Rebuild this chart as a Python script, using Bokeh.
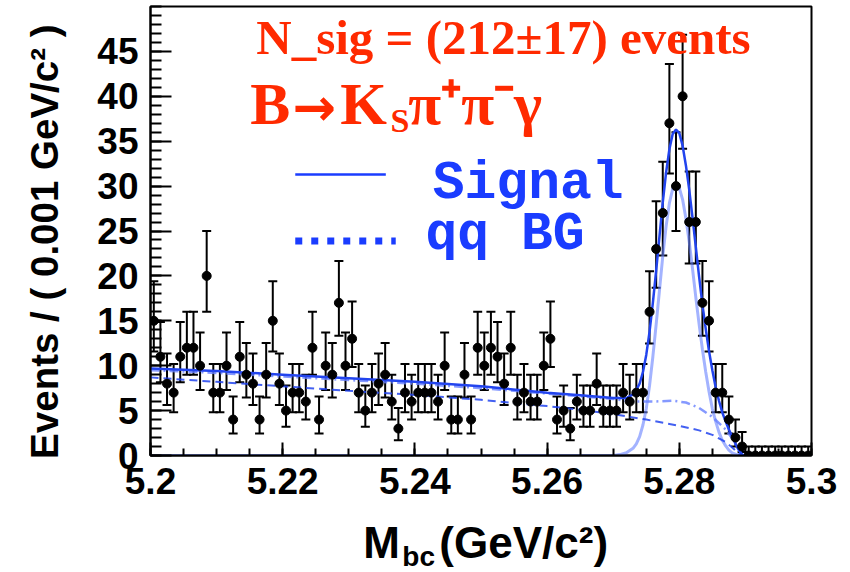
from bokeh.plotting import figure
from bokeh.layouts import column
from bokeh.models import (ColumnDataSource, Whisker, TeeHead, Label, FixedTicker,
                          CustomJSTickFormatter)
from bokeh.embed import file_html
from bokeh.resources import INLINE
import math

# ---------------- data ----------------
BIN_LO = 5.2
BIN_WIDTH = 0.001
counts = [15, 11, 8, 7, 11, 12, 12, 10, 20, 7,
          7, 10, 4, 11, 9, 8, 4, 9, 15, 8,
          5, 7, 7, 6, 12, 4, 10, 9, 17, 10,
          13, 7, 5, 7, 8, 9, 6, 3, 7, 6,
          7, 7, 7, 6, 10, 4, 4, 9, 4, 12,
          10, 12, 11, 8, 12, 6, 7, 6, 6, 10,
          13, 4, 5, 3, 6, 5, 5, 8, 5, 5,
          5, 7, 6, 7, 7, 16, 23, 27, 37, 30,
          40, 26, 26, 17, 15, 7, 7, 4, 2, 1,
          0, 0, 0, 0, 0, 0, 0, 0, 0, 0]

fit_x = [5.200, 5.210, 5.220, 5.230, 5.240, 5.250, 5.260, 5.265, 5.270, 5.271,
         5.272, 5.273, 5.2735, 5.274, 5.2745, 5.275, 5.2755, 5.276, 5.2765, 5.277,
         5.2775, 5.278, 5.2785, 5.279, 5.2795, 5.280, 5.2805, 5.281, 5.2815, 5.282,
         5.2825, 5.283, 5.2835, 5.284, 5.2845, 5.285, 5.2855, 5.286, 5.2865, 5.287,
         5.2875, 5.288, 5.2885, 5.289, 5.2895, 5.290, 5.300]
total_y = [9.7, 9.4, 9.0, 8.6, 8.2, 7.7, 7.0, 6.7, 6.4, 6.4,
           6.4, 6.8, 7.3, 8.0, 9.3, 11.2, 13.8, 17.0, 20.6, 24.4,
           28.2, 31.5, 34.1, 35.8, 36.3, 35.9, 34.5, 32.3, 29.6, 26.5,
           23.2, 19.9, 16.8, 14.1, 11.6, 9.5, 7.6, 6.1, 4.8, 3.8,
           2.9, 2.1, 1.3, 0.6, 0.1, 0.0, 0.0]
signal_y = [0.0, 0.0, 0.0, 0.0, 0.0, 0.0, 0.0, 0.0, 0.0, 0.1,
            0.3, 0.8, 1.3, 2.1, 3.4, 5.2, 7.8, 11.0, 14.6, 18.4,
            22.2, 25.5, 28.1, 29.7, 30.2, 29.8, 28.5, 26.4, 23.8, 20.8,
            17.6, 14.6, 11.8, 9.3, 7.1, 5.2, 3.8, 2.6, 1.7, 1.1,
            0.6, 0.3, 0.15, 0.05, 0.0, 0.0, 0.0]

qq_x = [5.200, 5.210, 5.220, 5.230, 5.240, 5.250, 5.260, 5.265, 5.270, 5.275,
        5.280, 5.283, 5.285, 5.287, 5.288, 5.2893, 5.300]
qq_y = [8.7, 8.2, 7.7, 7.2, 6.75, 6.2, 5.5, 5.1, 4.6, 4.0,
        3.3, 2.8, 2.3, 1.5, 0.9, 0.0, 0.0]

bg_x = [5.200, 5.210, 5.220, 5.230, 5.240, 5.250, 5.260, 5.265, 5.270, 5.273,
        5.276, 5.279, 5.281, 5.283, 5.285, 5.287, 5.288, 5.289, 5.2895, 5.300]
bg_y = [9.5, 9.2, 8.8, 8.4, 8.0, 7.5, 6.9, 6.6, 6.3, 6.0,
        6.0, 6.1, 5.9, 5.3, 4.3, 2.9, 1.9, 0.7, 0.0, 0.0]

x_ticks = [5.2, 5.22, 5.24, 5.26, 5.28, 5.3]
y_ticks = [0, 5, 10, 15, 20, 25, 30, 35, 40, 45]

# ---------------- derived quantities ----------------
mbc = [BIN_LO + BIN_WIDTH * (i + 0.5) for i in range(len(counts))]
err_lo = [max(n - math.sqrt(n + 0.25) + 0.5, 0.0) for n in counts]
err_hi = [n + math.sqrt(n + 0.25) + 0.5 for n in counts]
xl = [m - BIN_WIDTH / 2 for m in mbc]
xr = [m + BIN_WIDTH / 2 for m in mbc]
src = ColumnDataSource(dict(x=mbc, y=counts, lo=err_lo, hi=err_hi, xl=xl, xr=xr))

# ---------------- styling ----------------
BLUE = "#2244ee"
LIGHT_BLUE = "#6680ff"
TEXT_BLUE = "#1a3cff"
RED = "#ff2a00"
SANS = "Liberation Sans"
SERIF = "Liberation Serif"
NB = "\u00a0"

p = figure(width=850, height=514, x_range=(5.2, 5.3), y_range=(0, 50),
           output_backend="svg", toolbar_location=None,
           min_border_left=150, min_border_right=39, min_border_top=6,
           min_border_bottom=59)
p.background_fill_color = "white"
p.border_fill_color = "white"
p.outline_line_color = "black"
p.outline_line_width = 2
p.xgrid.visible = False
p.ygrid.visible = False

p.xaxis.ticker = FixedTicker(ticks=x_ticks,
                             minor_ticks=[5.2 + 0.005 * k for k in range(21)])
p.xaxis.formatter = CustomJSTickFormatter(code="return tick.toFixed(2).replace(/0$/, '')")
p.yaxis.ticker = FixedTicker(ticks=y_ticks, minor_ticks=list(range(0, 51)))

for ax in (p.xaxis, p.yaxis):
    ax.axis_line_width = 2
    ax.major_tick_line_width = 2
    ax.minor_tick_line_width = 2
    ax.major_tick_out = 0
    ax.minor_tick_out = 0
    ax.major_label_text_font = SANS
    ax.major_label_text_font_style = "bold"
    ax.major_label_text_font_size = "37px"
    ax.major_label_text_color = "black"
    ax.major_label_standoff = 12
p.xaxis.major_tick_in = 13
p.xaxis.minor_tick_in = 7
p.yaxis.major_tick_in = 21
p.yaxis.minor_tick_in = 11

p.yaxis.axis_label = "Events / ( 0.001 GeV/c\u00b2 )" + NB * 2
p.yaxis.axis_label_text_font = SANS
p.yaxis.axis_label_text_font_style = "bold"
p.yaxis.axis_label_text_font_size = "38.5px"
p.yaxis.axis_label_standoff = 28
p.yaxis.axis_label_text_color = "black"

# ---------------- fit curves ----------------
p.line(fit_x, signal_y, line_color=LIGHT_BLUE, line_width=3, line_alpha=0.6)
p.line(bg_x, bg_y, line_color=LIGHT_BLUE, line_width=2.5, line_alpha=0.8,
       line_dash="9 4 2 4")
p.line(qq_x, qq_y, line_color=BLUE, line_width=2, line_dash="8 5", line_alpha=0.85)
p.line(fit_x, total_y, line_color=BLUE, line_width=2.5)

# ---------------- data points ----------------
p.segment(x0="xl", y0="y", x1="xr", y1="y", source=src, line_color="black", line_width=2)
p.add_layout(Whisker(base="x", lower="lo", upper="hi", source=src,
                     line_color="black", line_width=2,
                     upper_head=TeeHead(size=9, line_width=2, line_color="black"),
                     lower_head=TeeHead(size=9, line_width=2, line_color="black")))
p.scatter("x", "y", source=src, marker="circle", size=9,
          fill_color="black", line_color="black")

# ---------------- texts & legend ----------------
def red_label(x, y, text, size, font=SERIF, align="left"):
    p.add_layout(Label(x=x, y=y, text=text, text_align=align,
                       text_baseline="alphabetic", text_font=font,
                       text_font_style="bold", text_font_size=size,
                       text_color=RED))

red_label(5.2534, 46.6, "N_sig = (212\u00b117) events", "49px", align="center")
red_label(5.2151, 39.1, "B", "60px")
red_label(5.2215, 38.8, "\u2192", "52px", font="DejaVu Sans")
red_label(5.2287, 39.1, "K", "60px")
red_label(5.2363, 37.3, "S", "34px")
red_label(5.2390, 39.1, "\u03c0\u207a\u03c0\u207b\u03b3", "60px")

LEG_X0, LEG_X1 = 5.2219, 5.2356
LEG_DOT_X1 = 5.2371
LEG_Y_SIG, LEG_Y_BG = 31.3, 23.9
p.line([LEG_X0, LEG_X1], [LEG_Y_SIG, LEG_Y_SIG], line_color=TEXT_BLUE, line_width=2.5)
p.line([LEG_X0, LEG_DOT_X1], [LEG_Y_BG, LEG_Y_BG], line_color=TEXT_BLUE,
       line_width=7, line_dash="7 9", line_cap="butt")
p.add_layout(Label(x=5.2427, y=30.2, text="Signal", text_baseline="alphabetic",
                   text_font="Liberation Mono", text_font_style="bold",
                   text_font_size="53px", text_color=TEXT_BLUE))
p.add_layout(Label(x=5.2416, y=24.6, text="qq BG", text_baseline="alphabetic",
                   text_font="Liberation Mono", text_font_style="bold",
                   text_font_size="53px", text_color=TEXT_BLUE))

# ---------------- x-axis title strip (subscript "bc") ----------------
q = figure(width=850, height=58, x_range=(5.2, 5.3), y_range=(0, 58),
           output_backend="svg", toolbar_location=None,
           x_axis_type=None, y_axis_type=None,
           min_border_left=150, min_border_right=39, min_border_top=0,
           min_border_bottom=0)
q.outline_line_color = None
q.background_fill_color = "white"
q.border_fill_color = "white"
q.xgrid.visible = False
q.ygrid.visible = False

def title_label(x, y, text, size):
    q.add_layout(Label(x=x, y=y, text=text, text_baseline="alphabetic",
                       text_font=SANS, text_font_style="bold",
                       text_font_size=size, text_color="black"))

title_label(5.2322, 30, "M", "44px")
title_label(5.2381, 16, "bc", "28px")
title_label(5.2437, 30, "(GeV/c\u00b2)", "44px")

open("out.html", "w").write(file_html(column(p, q, spacing=0), INLINE))
